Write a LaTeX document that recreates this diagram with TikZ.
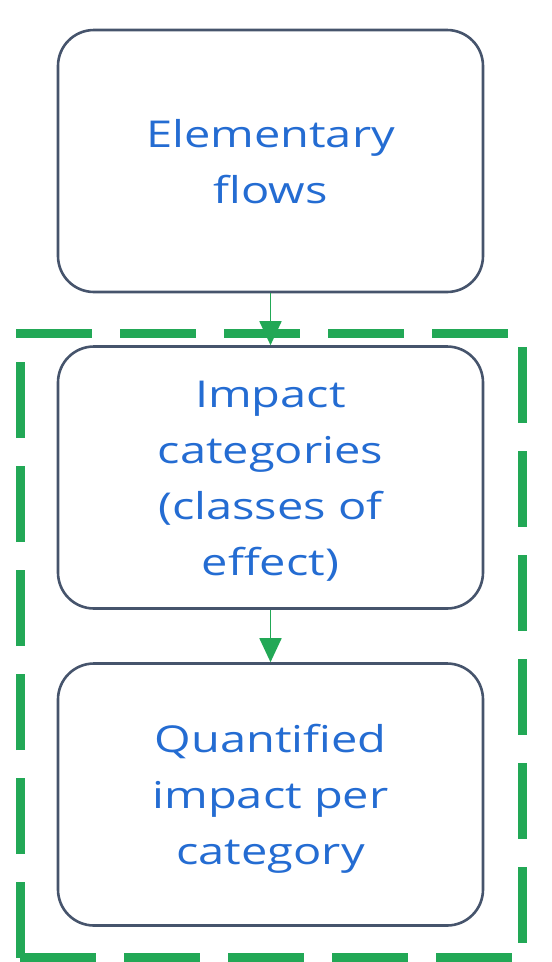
\documentclass[tikz,border=0pt]{standalone}
\usepackage{fontspec}
\setmainfont{Open Sans}
\newfontfamily\widesans[FakeStretch=1.27]{Open Sans}
\usetikzlibrary{arrows.meta}
\definecolor{txtblue}{RGB}{36,108,210}
\definecolor{boxgray}{RGB}{70,84,108}
\definecolor{dgreen}{RGB}{34,168,86}
\begin{document}
\begin{tikzpicture}[x=1pt,y=-1pt,
  stagebox/.style={draw=boxgray, line width=2.6pt, rounded corners=36pt,
    minimum width=425pt, minimum height=262pt},
  stagetext/.style={align=center, inner sep=0pt,
    text=txtblue, font=\widesans\fontsize{37}{56}\selectfont},
  flowarrow/.style={draw=dgreen, line width=1.8pt,
    -{Triangle[length=24pt,width=22pt]}},
  dashside/.style={draw=dgreen, line width=8.5pt, line cap=butt,
    dash pattern=on 76pt off 28pt}]
\useasboundingbox (0,0) rectangle (552,962);
\coordinate (tl) at (16,333.5);
\coordinate (tr) at (527,333.5);
\coordinate (rt) at (522.5,329);
\coordinate (rb) at (522.5,962);
\coordinate (bl) at (20,957.5);
\coordinate (br) at (527,957.5);
\coordinate (lb) at (20.5,958);
\coordinate (lt) at (20.5,329);
\draw[dashside] (tl) -- (tr);
\draw[dashside, dash phase=86pt] (rt) -- (rb);
\draw[dashside] (bl) -- (br);
\draw[dashside] (lb) -- (lt);
\node[stagebox] (flows) at (270.5,161) {};
\node[stagebox] (cats) at (270.5,477.5) {};
\node[stagebox] (quant) at (270.5,794.5) {};
\node[stagetext] (flowsT) at ([yshift=-1pt]flows.center) {Elementary\\flows};
\node[stagetext] (catsT) at ([yshift=-4pt]cats.center) {Impact\\categories\\(classes of\\effect)};
\node[stagetext] (quantT) at ([yshift=-4pt]quant.center) {Quantified\\impact per\\category};
\draw[flowarrow] (flows) -- (cats);
\draw[flowarrow] (cats) -- (quant);
\end{tikzpicture}
\end{document}
